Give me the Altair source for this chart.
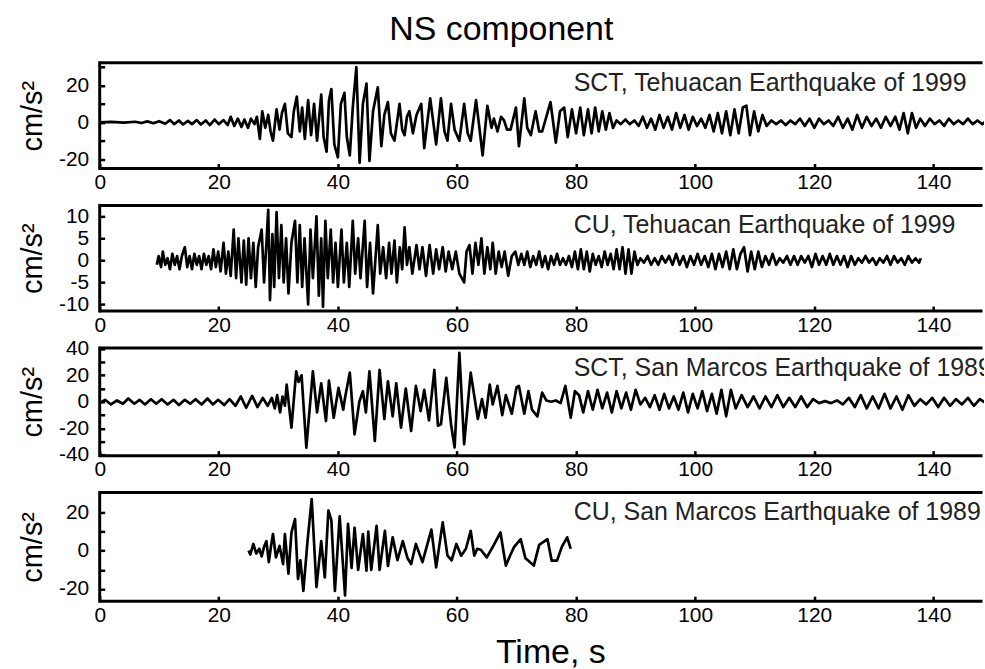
import altair as alt
import pandas as pd

FONT = "Liberation Sans"
TITLE = "NS component"
X_TITLE = "Time, s"
Y_TITLE = "cm/s²"
X_TICKS = [0, 20, 40, 60, 80, 100, 120, 140]
X_MAX = 148.5

LABELS = [
    "SCT, Tehuacan Earthquake of 1999",
    "CU, Tehuacan Earthquake of 1999",
    "SCT, San Marcos Earthquake of 1989",
    "CU, San Marcos Earthquake of 1989",
]

# (time s, acceleration cm/s^2) turning points
SCT_1999 = [
    (0, 0), (2, 0.2), (4, -0.2), (6, 0.3), (7, -0.4), (8, 0.5), (9, -0.5), (10, 0.6), (11, -0.8),
    (11.8, 1.2), (12.5, -1), (13.3, 1), (14, -1.2), (14.8, 0.8), (15.5, -1), (16.3, 1.2), (17, -1.2),
    (17.8, 1), (18.5, -1.5), (19.3, 1.5), (20, -1), (20.8, 1.2), (21.5, -1.5), (22, 3), (22.6, -2),
    (23.2, 2), (23.8, -2.5), (24.3, 1.5), (24.9, -3), (25.4, 2), (26, -1), (26.4, 3), (26.9, -9),
    (27.3, 6), (27.8, -3), (28.3, 4), (28.7, -5), (29.1, -10), (29.7, 7), (30.2, -4), (30.6, 5),
    (31.1, 10), (31.6, -6), (32.2, -8), (32.6, 6), (33.1, 14), (33.6, -5), (34, 8), (34.45, -9),
    (35, 12), (35.5, -7), (36, 10), (36.5, -10), (37.2, 15), (37.6, -8), (38.1, -16), (38.5, 12),
    (38.9, 18), (39.4, -12), (40, -19), (40.5, 10), (41.1, 16), (41.5, -8), (42, -18), (42.5, 8),
    (43.1, 30), (43.65, -22), (44.2, 10), (44.8, 21), (45.3, -21), (45.9, 6), (46.7, 19), (47.3, -13),
    (47.8, 4), (48.4, 11), (48.9, -6), (49.5, -10), (50.35, 10), (50.8, -4), (51.2, -7), (51.6, 3),
    (52, 6), (52.6, -6), (53.2, 4), (54, 10), (54.5, -14), (55.5, 13), (56.5, -12), (57.3, 13),
    (57.9, -5), (58.4, -10), (59, 10), (59.6, -4), (60.4, -10), (61.2, 10), (61.8, -6), (62.3, -10),
    (63.2, 12), (63.8, -4), (64.3, -18), (65.1, 9), (65.8, -3), (66.2, 2), (66.8, -5), (67.4, 3),
    (67.9, 1), (68.4, -4), (69, -4), (69.9, 8), (70.4, -13), (71.3, 13), (71.8, -3), (72.4, -7),
    (73.2, 6), (73.8, -5), (74.3, -5), (75, 3), (75.7, 11), (76.6, -11), (77.3, 6), (78, 8),
    (78.6, -8), (79.3, 7), (80, -6), (80.7, 8), (81.3, -7), (82, 7), (82.6, -6), (83.2, 8),
    (83.8, -5), (84.4, 6), (85, -4), (85.6, 5), (86.2, -3), (86.8, 1), (87.5, -1), (88.3, 1.5),
    (89, -1), (89.8, 1), (90.5, -2), (91.2, 3), (91.9, -3), (92.6, 2), (93.3, -4), (94, 4),
    (94.7, -3), (95.4, 3), (96.1, -4), (96.8, 5), (97.5, -3), (98.2, 4), (98.9, -4), (99.6, 3),
    (100.3, -2), (101, 2), (101.7, -3), (102.4, 4), (103.1, -5), (103.8, 5), (104.5, -6), (105.2, 6),
    (105.9, -7), (106.6, 7), (107.3, -6), (108, 8), (108.6, 9), (109.2, -7), (109.9, 6), (110.6, -5),
    (111.3, 4), (112, -2), (112.8, 1), (113.6, -1), (114.4, 1), (115.2, -1.5), (116, 1), (116.8, -1),
    (117.6, 2), (118.4, -2), (119.2, 2), (120, -3), (120.8, 2), (121.6, -1), (122.4, 1), (123.2, -2),
    (124, 3), (124.8, -3), (125.6, 2), (126.4, -4), (127.2, 4), (128, -3), (128.8, 3), (129.6, -2),
    (130.4, 2), (131.2, -3), (132, 3), (132.8, -2), (133.6, 3), (134.3, -4), (135, 5), (135.7, -6),
    (136.4, 5), (137.1, -3), (137.8, 2), (138.6, -2), (139.4, 2), (140.2, -1), (141, 1), (141.8, -2),
    (142.6, 2), (143.4, -1), (144.2, 1), (145, -1), (145.8, 2), (146.6, -1), (147.4, 1), (148.2, -1),
    (149, 1),
]

CU_1999 = [
    (9.6, -1), (9.9, 1), (10.3, -1.5), (10.6, 2), (11, -1), (11.4, 0.5), (11.8, -2), (12.2, 1.5),
    (12.6, -1), (13, 1), (13.4, -2), (13.8, 1), (14.3, 3), (14.7, -1.5), (15.1, 1), (15.5, -2),
    (15.9, 1.5), (16.3, -1), (16.7, 1), (17.1, -2), (17.5, 1.5), (17.9, -1), (18.3, 1), (18.7, -2),
    (19.1, 2.5), (19.5, -1.5), (19.9, 2), (20.3, -2.5), (20.8, 4), (21.2, -3), (21.6, 2), (22, -3.5),
    (22.5, 7), (22.9, -4), (23.3, 5), (23.8, -5), (24.2, 4.5), (24.6, -5.5), (25, 5), (25.4, -4),
    (25.8, 4), (26.2, -6), (26.6, 3), (27.2, 7), (27.6, -5), (28, 4), (28.3, 11.5), (28.6, -9),
    (29, 6), (29.3, -6), (29.7, 11), (30.1, -4), (30.5, 8), (30.9, -5), (31.3, 5), (31.7, -7.5),
    (32.2, 4), (32.8, 9), (33.2, -5), (33.6, 8), (34, -6), (34.4, 5), (35, -10), (35.4, 7),
    (35.8, -4), (36.4, 10), (36.8, -8), (37.2, 5), (37.5, -10.5), (37.9, 9), (38.3, -4), (38.8, 7),
    (39.2, -5), (39.6, 4), (40, -6), (40.6, 7), (41, -5), (41.5, 4), (41.9, -6), (42.5, 9),
    (42.9, -3), (43.4, 5), (43.8, -4), (44.5, 9), (44.9, -6), (45.4, 4), (45.9, -7.5), (46.7, 8),
    (47.1, -3), (47.6, 3), (48.1, -4), (48.6, 4), (49, -3), (49.5, 4.5), (49.9, -5), (50.4, 3),
    (50.8, -2), (51.2, 7.5), (51.6, -1), (52, 3), (52.5, -3), (53.2, 3.5), (53.7, -2), (54.2, 3),
    (54.8, -3.5), (55.4, 3.5), (56, -3), (56.5, 2.5), (57, -2), (57.6, 3), (58.1, -2.5), (58.6, 2),
    (59.2, -2), (59.8, 2), (60.4, -3), (61.2, -5), (61.6, 2), (62.1, 3.5), (62.6, -3), (63.1, 4),
    (63.6, -1), (64.1, 5), (64.6, -3), (65.1, 3), (65.6, -2), (66, 4), (66.5, -3), (67, 2),
    (67.5, -1.5), (68, 2), (68.6, -3.5), (69.2, 1), (69.8, 2), (70.3, -1), (70.8, 1.5), (71.3, -1),
    (71.8, 2), (72.3, -1.5), (72.8, 1), (73.3, -1), (73.8, 2), (74.3, -1.5), (74.8, 1), (75.3, -2),
    (75.8, 1), (76.3, -1), (76.8, 1.5), (77.3, -1), (77.8, 0.5), (78.3, -1), (78.8, 1), (79.3, -1.5),
    (79.8, 2), (80.3, -2), (80.8, 2.5), (81.3, -2), (81.8, 2), (82.3, -2.5), (82.8, 1.5), (83.3, -1),
    (83.8, 1), (84.3, -1.5), (84.8, 2), (85.3, -1), (85.8, 1.5), (86.3, -2), (86.8, 2.5), (87.3, -2),
    (87.8, 3), (88.3, -3), (88.8, 2.5), (89.3, -3), (89.8, 2), (90.3, -1), (90.8, 0.5), (91.4, -0.5),
    (92, 1), (92.6, -1), (93.2, 0.5), (93.8, -1), (94.4, 1), (95, -0.5), (95.6, 1), (96.2, -1),
    (96.8, 1.5), (97.4, -1), (98, 1), (98.6, -1.5), (99.2, 1), (99.8, -1), (100.4, 1.5), (101, -1),
    (101.6, 1), (102.2, -1.5), (102.8, 1.5), (103.4, -2), (104, 1.5), (104.6, -1.5), (105.2, 2),
    (105.8, -2), (106.4, 2.5), (107, -2), (107.6, 1.5), (108.2, 3), (108.8, -2.5), (109.4, 2),
    (110, -2), (110.6, 2), (111.2, -1.5), (111.8, 1), (112.4, -1), (113, 1.5), (113.6, -1),
    (114.2, 0.5), (114.8, -0.5), (115.4, 1), (116, -1), (116.6, 1), (117.2, -1), (117.8, 1),
    (118.4, -0.5), (119, 1), (119.6, -1.5), (120.2, 1.5), (120.8, -1), (121.4, 1), (122, -1),
    (122.6, 1.5), (123.2, -1), (123.8, 1), (124.4, -1), (125, 1), (125.6, -1.5), (126.2, 1),
    (126.8, -1), (127.4, 0.5), (128, -0.5), (128.6, 1), (129.2, -0.5), (129.8, 0.5), (130.4, -1),
    (131, 0.5), (131.6, -0.5), (132.2, 1), (132.8, -1), (133.4, 1), (134, -0.5), (134.6, 0.5),
    (135.2, -1), (135.8, 1), (136.4, -0.5), (137, 0.5), (137.6, -0.5), (137.9, 0.5),
]

SCT_1989 = [
    (0, -1), (0.9, 1.5), (1.9, -2), (2.9, 1), (3.9, -1.5), (4.8, 2.5), (5.8, -1.5), (6.7, 1.5),
    (7.6, -2), (8.6, 2), (9.5, -1.5), (10.4, 2), (11.4, -2), (12.4, 1.5), (13.3, -2.5), (14.3, 1.5),
    (15.2, -1.5), (16.1, 2), (17.1, -2), (18.1, 2.5), (19, -2), (19.9, 1.5), (20.9, -2.5), (21.8, 2),
    (22.8, -3), (23.7, 4), (24.6, -4.5), (25.6, 4.5), (26.5, -4), (27.4, 3), (28.2, -3), (28.9, 3),
    (29.4, -5), (29.8, 5), (30.3, -8), (30.7, 4), (31.1, -3), (31.4, 13), (32.2, -19.5), (33, 23),
    (33.4, 15), (33.9, 20), (34.7, -34.5), (35.8, 23), (36.5, -8), (37.2, 14), (38, -14.5),
    (38.5, 16), (39.3, -12), (40.1, 10.5), (40.9, -6), (41.2, 3), (42, 22), (42.8, -24.5),
    (43.6, 0), (44.2, 8), (44.7, -8), (45.3, 23), (46.2, -29.5), (47, 24), (47.8, -13), (48.4, 15.5),
    (49.2, -11), (49.8, 14), (50.6, -19.5), (51.4, 10), (52.3, -22), (53.1, 12), (53.9, -7),
    (54.5, 9), (55.3, -14), (56.2, 24), (56.8, -18), (57.3, -17), (58.2, 18), (59, -17),
    (59.6, -34.5), (60.4, 37), (61.2, -32), (62.3, 22), (63.5, -13), (64.2, 2), (64.8, -12),
    (65.5, 13), (66, -2), (66.8, 12), (67.6, -10), (68.2, 5), (69.2, -9), (70, 11), (70.4, 12),
    (71.3, -9), (72, 8), (72.6, -6), (73.5, -11), (74.3, 7), (75, 1), (75.8, 0), (76.6, 1),
    (77.4, -1), (78.2, 12), (79.1, -12), (79.8, 8), (80.5, 5), (81.2, -8), (82, 8), (82.8, -6),
    (83.6, 9), (84.4, -5), (85.2, 7), (86, -8), (86.8, 8), (87.6, -5), (88.4, 7), (89.2, -6),
    (90, 9), (90.8, -2), (91.6, 3), (92.4, -4), (93.2, 5), (94, -6), (94.8, 6), (95.6, -5),
    (96.4, 4), (97.2, -6), (98, 7), (98.8, -8), (99.6, 6), (100.4, -5), (101.2, 8), (102, -7),
    (102.8, 6), (103.6, -9), (104.4, 9), (105.2, -11), (106, 9), (106.8, -5), (107.8, 5),
    (108.8, -4), (109.8, 4), (110.8, -5), (111.8, 4), (112.8, -4), (113.8, 5), (114.8, -4),
    (115.8, 3), (116.8, -4), (117.8, 4), (118.8, -4), (119.8, 2), (120.8, -1), (121.8, 0.5),
    (122.8, -1), (123.8, 1), (124.8, -2), (125.8, 3), (126.8, -4), (127.8, 5), (128.8, -5),
    (129.8, 4), (130.8, -5), (131.8, 6), (132.8, -5), (133.8, 4), (134.8, -6), (135.8, 5),
    (136.8, -3), (137.8, 2), (138.8, -2), (139.8, 3), (140.8, -4), (141.8, 3), (142.8, -3),
    (143.8, 2), (144.8, -2), (145.8, 3), (146.8, -3), (147.8, 2), (148.8, -1),
]

CU_1989 = [
    (25, 0), (25.3, -2), (25.8, 3.5), (26.3, -1.5), (26.8, 1), (27.2, -3), (27.6, 2), (28, 5),
    (28.4, -6), (28.8, 3), (29.1, 8.7), (29.6, -3.5), (30.2, 2.5), (30.8, -7), (31.1, 8.7),
    (31.7, -12), (32.2, 9.5), (32.8, 16.5), (33.3, -14.8), (33.7, -5), (34.2, -21), (34.9, 5),
    (35.6, 27), (36.4, -19), (37.2, 5), (37.8, -14), (38.4, 21), (38.9, 16), (39.5, -21),
    (40.3, 18), (41.2, -23.4), (41.7, 14), (42.3, -9), (42.8, 12), (43.4, -10), (44.2, 8.7),
    (44.8, -10.4), (45.1, 10), (45.6, -10), (46.5, 13), (47, -10), (47.9, 10.4), (48.4, -8),
    (49.2, 7), (50, -5), (50.9, 5), (51.7, -4), (52.3, -7), (53.1, 3.5), (54.2, -6), (55.7, 11),
    (56.5, -8.7), (57.6, 14.8), (58.4, -2.6), (59.1, -5), (59.9, 3.5), (60.7, -2.6), (61.5, 1),
    (62.3, 10.4), (62.9, -2.6), (63.4, 1), (64, 0.5), (65, -3.5), (66.1, 2.5), (67.3, 9.5),
    (68.2, -7.8), (69, -2), (69.6, 2), (70.7, 6), (71.5, -4), (72.9, -7.8), (73.8, 3), (75.2, 6),
    (75.9, -5.2), (76.8, -5.2), (77.6, 2), (78.5, 7), (79.1, 1),
]

SERIES = [SCT_1999, CU_1999, SCT_1989, CU_1989]
Y_DOMAINS = [[-25.1, 32.3], [-11.5, 12.5], [-40.6, 40.6], [-26.4, 30.4]]
Y_TICKS = [
    [-20, -10, 0, 10, 20, 30],
    [-10, -5, 0, 5, 10],
    [-40, -30, -20, -10, 0, 10, 20, 30, 40],
    [-20, -10, 0, 10, 20],
]
Y_LABEL_STEP = [20, 5, 20, 20]
HEIGHTS = [106, 106, 108, 109]
WIDTH = 887
LABEL_T = 79.6
FRAME_END = 148.25


def panel(i):
    last = i == len(SERIES) - 1
    df = pd.DataFrame(SERIES[i], columns=["t", "a"])
    ydom = Y_DOMAINS[i]
    xs = alt.Scale(domain=[0, X_MAX], nice=False, zero=False)
    ys = alt.Scale(domain=ydom, nice=False, zero=False)
    x_axis = alt.Axis(
        values=X_TICKS, title=X_TITLE if last else None, offset=-5, tickSize=5, tickWidth=2.5,
        tickColor="black", domain=False, grid=False, labelPadding=3, labelFontSize=21,
        labelFont=FONT, labelColor="black", labelExpr="'' + datum.value",
        titleFont=FONT, titleFontSize=34, titleFontWeight="normal", titleColor="black",
        titlePadding=10, titleX=452, labelFlush=False, labelOverlap=False,
    )
    y_axis = alt.Axis(
        values=Y_TICKS[i], title=Y_TITLE, offset=-5, tickSize=5, tickWidth=2.5,
        tickColor="black", domain=False, grid=False, labelPadding=11, labelFontSize=21,
        labelFont=FONT, labelColor="black",
        labelExpr=f"datum.value % {Y_LABEL_STEP[i]} == 0 ? '' + datum.value : ''",
        titleFont=FONT, titleFontSize=29, titleFontWeight="normal", titleColor="black",
        titlePadding=11, labelFlush=False, labelOverlap=False,
    )
    line = alt.Chart(df).mark_line(
        color="black", strokeWidth=2.7, clip=True, strokeJoin="round"
    ).encode(
        x=alt.X("t:Q", scale=xs, axis=x_axis),
        y=alt.Y("a:Q", scale=ys, axis=y_axis),
        order="t:Q",
    )
    horiz = pd.DataFrame({"t": [0, 0], "t2": [FRAME_END, FRAME_END], "a": [ydom[1], ydom[0]]})
    hrule = alt.Chart(horiz).mark_rule(color="black", strokeWidth=3, strokeCap="butt").encode(
        x=alt.X("t:Q", scale=xs, axis=x_axis), x2="t2:Q",
        y=alt.Y("a:Q", scale=ys, axis=y_axis),
    )
    vert = pd.DataFrame({"t": [0], "a": [ydom[0]], "a2": [ydom[1]]})
    vrule = alt.Chart(vert).mark_rule(color="black", strokeWidth=3, strokeCap="square").encode(
        x=alt.X("t:Q", scale=xs, axis=x_axis),
        y=alt.Y("a:Q", scale=ys, axis=y_axis), y2="a2:Q",
    )
    lab = pd.DataFrame({"t": [LABEL_T], "label": [LABELS[i]]})
    text = alt.Chart(lab).mark_text(
        align="left", baseline="middle", font=FONT, fontSize=25, color="#222222", clip=True
    ).encode(x=alt.X("t:Q", scale=xs, axis=x_axis), y=alt.value(20), text="label:N")
    return alt.layer(line, hrule, vrule, text).properties(width=WIDTH, height=HEIGHTS[i])


chart = alt.vconcat(
    *[panel(i) for i in range(len(SERIES))], spacing=37, bounds="flush"
).properties(
    title=alt.TitleParams(
        TITLE, font=FONT, fontSize=34, fontWeight="normal", color="black", anchor="middle", offset=9
    ),
    padding={"left": 18, "top": 12, "right": 0, "bottom": 0},
).configure_view(stroke=None)

chart.save("out.html", embed_options={"renderer": "svg", "actions": False})
